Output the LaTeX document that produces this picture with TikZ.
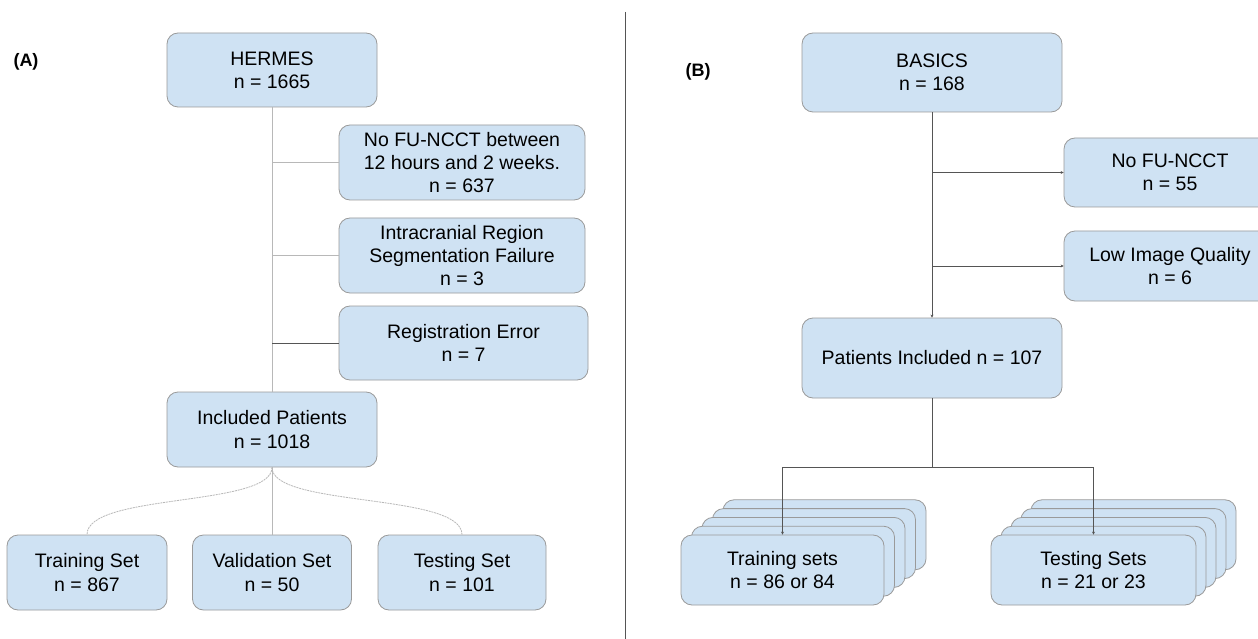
\documentclass[tikz,border=0pt]{standalone}
\usepackage{fontspec}
\setmainfont{Liberation Sans}
\usetikzlibrary{arrows.meta}
\definecolor{boxfill}{HTML}{CFE2F3}
\definecolor{boxline}{HTML}{9A9A9A}
\definecolor{lightln}{HTML}{B8B8B8}
\definecolor{darkln}{HTML}{555555}
\tikzset{
  box/.style={draw=boxline, line width=0.8pt, fill=boxfill, rounded corners=11pt,
    align=center, inner sep=0pt, font=\fontsize{19.5}{23.2}\selectfont},
  lconn/.style={draw=lightln, line width=0.8pt},
  dconn/.style={draw=darkln, line width=0.8pt},
  tip/.style={-{Stealth[length=3pt,width=3pt]}},
  curveconn/.style={draw=lightln, line width=0.8pt, dash pattern=on 2pt off 0.8pt},
  panel/.style={font=\bfseries\fontsize{18}{21}\selectfont}
}
\begin{document}
\begin{tikzpicture}[x=1pt,y=-1pt]
\useasboundingbox (0,0) rectangle (1258,639);
\clip (0,0) rectangle (1258,639);
\fill[white] (0,0) rectangle (1258,639);

% divider
\coordinate (dtop) at (625,12);
\coordinate (dbot) at (625,639);
\draw[darkln, line width=1pt] (dtop) -- (dbot);

% panel labels
\node[panel] (la) at (26,62) {(A)};
\node[panel] (lb) at (698,72) {(B)};

% ---------- Panel A ----------
\node[box, minimum width=210, minimum height=74] (hermes) at (272,70) {HERMES\\n = 1665};
\node[box, minimum width=246, minimum height=75] (nofu) at (462,162.5) {No FU-NCCT between\\12 hours and 2 weeks.\\n = 637};
\node[box, minimum width=246, minimum height=75] (intra) at (462,255.5) {Intracranial Region\\Segmentation Failure\\n = 3};
\node[box, minimum width=249, minimum height=74] (reg) at (463.5,343) {Registration Error\\n = 7};
\node[box, minimum width=210, minimum height=75] (incl) at (272,429.5) {Included Patients\\n = 1018};
\node[box, minimum width=160, minimum height=75] (train) at (87,572.5) {Training Set\\n = 867};
\node[box, minimum width=159, minimum height=75] (valid) at (272,572.5) {Validation Set\\n = 50};
\node[box, minimum width=168, minimum height=75] (test) at (462,572.5) {Testing Set\\n = 101};

\draw[lconn] (hermes.south) -- (incl.north);
\draw[lconn] (hermes.south |- nofu.west) -- (nofu.west);
\draw[lconn] (hermes.south |- intra.west) -- (intra.west);
\draw[dconn] (hermes.south |- reg.west) -- (reg.west);

\draw[lconn] (incl.south) -- (valid.north);
\draw[curveconn] (incl.south) .. controls ([yshift=-40pt]incl.south) and ([yshift=42pt]train.north) .. (train.north);
\draw[curveconn] (incl.south) .. controls ([yshift=-40pt]incl.south) and ([yshift=42pt]test.north) .. (test.north);

% ---------- Panel B ----------
\node[box, minimum width=260, minimum height=79] (basics) at (932,72.5) {BASICS\\n = 168};
\node[box, minimum width=212, minimum height=69] (nofub) at (1170,172.5) {No FU-NCCT\\n = 55};
\node[box, minimum width=212, minimum height=70] (lowq) at (1170,266) {Low Image Quality\\n = 6};
\node[box, minimum width=260, minimum height=80] (pinc) at (932,358) {Patients Included n = 107};

\foreach \k in {4,3,2,1} {
  \node[box, minimum width=203, minimum height=70] (trs\k) at (782.5+10.5*\k,570-8.8*\k) {};
  \node[box, minimum width=205, minimum height=70] (tes\k) at (1093.5+10*\k,570-8.8*\k) {};
}
\node[box, minimum width=203, minimum height=70] (trfront) at (782.5,570) {Training sets\\n = 86 or 84};
\node[box, minimum width=205, minimum height=70] (tefront) at (1093.5,570) {Testing Sets\\n = 21 or 23};

\draw[dconn, tip] (basics.south) -- (pinc.north);
\draw[dconn, tip] (basics.south |- nofub.west) -- (nofub.west);
\draw[dconn, tip] (basics.south |- lowq.west) -- (lowq.west);

\coordinate (jn) at (932,467);
\draw[dconn] (pinc.south) -- (jn);
\draw[dconn, tip] (jn) -| (trfront.north);
\draw[dconn, tip] (jn) -| (tefront.north);
\end{tikzpicture}
\end{document}
